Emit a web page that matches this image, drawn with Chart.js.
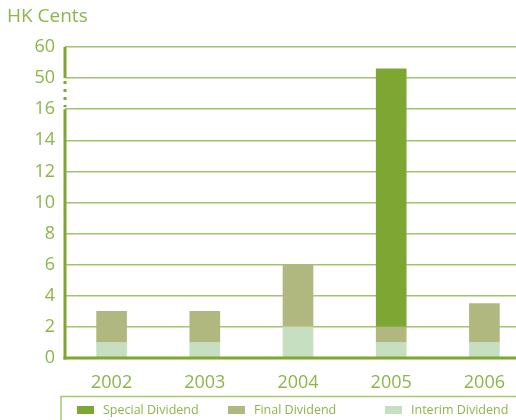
<!DOCTYPE html>
<html>
<head>
<meta charset="utf-8">
<script src="https://cdn.jsdelivr.net/npm/chart.js@4"></script>
<style>
  html, body { margin: 0; padding: 0; overflow: hidden; background: #fff; }
  #wrap { position: relative; width: 531px; height: 420px; }
</style>
</head>
<body>
<div id="wrap"><canvas id="myChart"></canvas></div>
<script>
var years = ['2002', '2003', '2004', '2005', '2006'];
var interim = [1, 1, 2, 1, 1];
var finalDiv = [2, 2, 4, 1, 2.5];
var special = [0, 0, 0, 51, 0];
var tickLabels = ['0', '2', '4', '6', '8', '10', '12', '14', '16', '50', '60'];

var green = '#8db54a';
var font = '"Open Sans", "DejaVu Sans", sans-serif';

// broken axis: 0..16 linear, then 50 and 60 one step each above 16
function axisPos(v) {
    if (v <= 16) return v;
    return 18 + (v - 50) / 5;
}

function floating(parts) {
    var out = [];
    for (var i = 0; i < years.length; i++) {
        var base = 0;
        for (var k = 0; k < parts.length - 1; k++) base += parts[k][i];
        var top = base + parts[parts.length - 1][i];
        out.push(top > base ? [axisPos(base), axisPos(top)] : null);
    }
    return out;
}

var legendAndAxes = {
    id: 'legendAndAxes',
    afterDatasetsDraw: function (chart) {
        var ctx = chart.ctx;
        var y = chart.scales.y;
        var area = chart.chartArea;
        ctx.save();
        // left axis with break
        ctx.strokeStyle = '#7fa632';
        ctx.lineWidth = 3;
        ctx.beginPath();
        ctx.moveTo(area.left, y.getPixelForValue(20));
        ctx.lineTo(area.left, y.getPixelForValue(18));
        ctx.moveTo(area.left, y.getPixelForValue(16));
        ctx.lineTo(area.left, area.bottom + 1.5);
        ctx.stroke();
        ctx.setLineDash([3, 5]);
        ctx.beginPath();
        ctx.moveTo(area.left, y.getPixelForValue(18) + 3);
        ctx.lineTo(area.left, y.getPixelForValue(16) - 2);
        ctx.stroke();
        ctx.setLineDash([]);
        // bottom axis
        ctx.beginPath();
        ctx.moveTo(area.left - 1.5, area.bottom);
        ctx.lineTo(516, area.bottom);
        ctx.stroke();
        // unit label
        ctx.fillStyle = green;
        ctx.font = '19px ' + font;
        ctx.textBaseline = 'middle';
        ctx.textAlign = 'left';
        ctx.fillText('HK Cents', 7, 17);
        // legend box
        ctx.strokeStyle = '#a9c67b';
        ctx.lineWidth = 1.5;
        ctx.beginPath();
        ctx.moveTo(61, 421);
        ctx.lineTo(61, 396.5);
        ctx.lineTo(520, 396.5);
        ctx.stroke();
        var xs = [77, 228, 385];
        var order = [2, 1, 0];
        ctx.font = '12.5px ' + font;
        order.forEach(function (di, j) {
            var ds = chart.data.datasets[di];
            ctx.fillStyle = ds.backgroundColor;
            ctx.fillRect(xs[j], 406, 17, 8);
            ctx.fillStyle = green;
            ctx.fillText(ds.label, xs[j] + 26, 410);
        });
        ctx.restore();
    }
};

var ctx = document.getElementById('myChart').getContext('2d');
var myChart = new Chart(ctx, {
    type: 'bar',
    data: {
        labels: years,
        datasets: [
            { label: 'Interim Dividend', data: floating([interim]), backgroundColor: '#c6dfc0' },
            { label: 'Final Dividend', data: floating([interim, finalDiv]), backgroundColor: '#b0b87f' },
            { label: 'Special Dividend', data: floating([interim, finalDiv, special]), backgroundColor: '#7da732' }
        ]
    },
    options: {
        responsive: true,
        maintainAspectRatio: false,
        animation: false,
        layout: { padding: { top: 47, left: 0, right: 0, bottom: 0 } },
        datasets: { bar: { barThickness: 30, borderWidth: 0 } },
        plugins: { legend: { display: false }, tooltip: { enabled: false } },
        scales: {
            x: {
                stacked: true,
                grid: { display: false },
                border: { display: false },
                ticks: { color: green, font: { size: 18, family: font }, padding: 6 },
                afterFit: function (scale) { scale.height = 62; }
            },
            y: {
                min: 0, max: 20,
                grid: { color: '#a3c46c', lineWidth: 1.5, drawTicks: false },
                border: { display: false },
                ticks: {
                    stepSize: 2,
                    color: green,
                    font: { size: 18, family: font },
                    padding: 10,
                    callback: function (v, i) { return tickLabels[i]; }
                },
                afterFit: function (scale) { scale.width = 65; }
            }
        }
    },
    plugins: [legendAndAxes]
});
</script>
</body>
</html>
